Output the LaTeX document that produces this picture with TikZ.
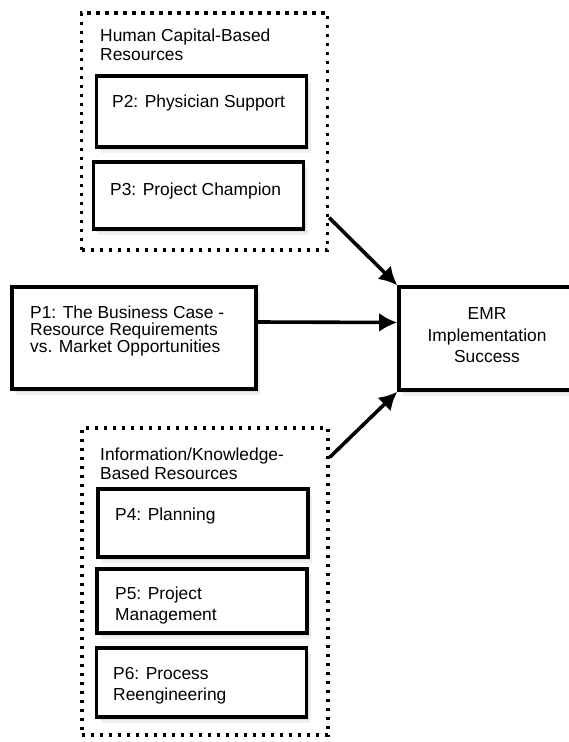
\documentclass[tikz,border=0pt]{standalone}
\usepackage{fontspec}
\setmainfont{Liberation Sans}
\usetikzlibrary{arrows.meta}
\usetikzlibrary{shadows}
\tikzset{basic/.style={draw,fill=white,line width=3.6pt,inner sep=0pt,
                       drop shadow={shadow xshift=2pt,shadow yshift=-3pt,opacity=0.15},
                       drop shadow={shadow xshift=4pt,shadow yshift=-6pt,opacity=0.12}}}
\tikzset{group/.style={draw,line width=3.4pt,dash pattern=on 3.4pt off 5.6pt,
                       minimum width=246pt,inner sep=0pt}}
\tikzset{caption/.style={anchor=north west,inner sep=0pt,align=left,
                         font=\fontsize{17.4}{21}\selectfont}}

\begin{document}
\begin{tikzpicture}[x=1pt,y=-1pt,>={Latex[length=18pt,width=19pt]}]
  \tikzstyle{pbox}=[basic,rectangle,minimum width=210pt]
  % page of the same size as the reference
  \useasboundingbox (0,0) rectangle (569,742);

  % The two dotted groups of resources:
  \node (hcap) [group,minimum height=237pt] at (204.5,131.5) {};
  \node (info) [group,minimum height=307pt] at (205,581.5) {};

  % Boxes of the propositions and of the outcome:
  \node (p2)  [pbox,minimum height=71pt] at (201.5,111.5) {};
  \node (p3)  [pbox,minimum height=67pt] at (198.5,195.5) {};
  \node (p1)  [pbox,minimum width=244pt,minimum height=102pt] at (134,338) {};
  \node (emr) [pbox,minimum width=176pt,minimum height=103pt] at (487,338.5) {};
  \node (p4)  [pbox,minimum height=68pt] at (203,523) {};
  \node (p5)  [pbox,minimum height=64pt] at (202,601) {};
  \node (p6)  [pbox,minimum height=69pt] at (201.5,682.5) {};

  % Texts, placed at the top left of their boxes
  \node (hcap_txt) [caption,font=\fontsize{17.4}{19}\selectfont] at (100,28.5)
        {Human Capital-Based\\Resources};
  \node (p2_txt) [caption] at (112,94.5) {P2: Physician Support};
  \node (p3_txt) [caption] at (110,182.5) {P3: Project Champion};
  \node (p1_txt) [caption,font=\fontsize{17.4}{17}\selectfont] at (30,305.5)
        {P1: The Business Case -\\Resource Requirements\\vs. Market Opportunities};
  \node (emr_txt) [caption,anchor=north,align=center,font=\fontsize{17.4}{21.5}\selectfont]
        at (487,307.5) {EMR\\Implementation\\Success};
  \node (info_txt) [caption,font=\fontsize{17.4}{19}\selectfont] at (100,447.5)
        {Information/Knowledge-\\Based Resources};
  \node (p4_txt) [caption] at (115,507.5) {P4: Planning};
  \node (p5_txt) [caption] at (115,586.5) {P5: Project\\Management};
  \node (p6_txt) [caption] at (113,667.5) {P6: Process\\Reengineering};

  % The groups and P1 point to the outcome:
  \path[->,line width=3.6pt]
        ([yshift=34pt]hcap.south east) edge (emr.north west)
        ([yshift=16pt]p1.east) edge ([yshift=16pt]emr.west)
        ([yshift=-31pt]info.north east) edge (emr.south west)
        ;
\end{tikzpicture}
\end{document}
